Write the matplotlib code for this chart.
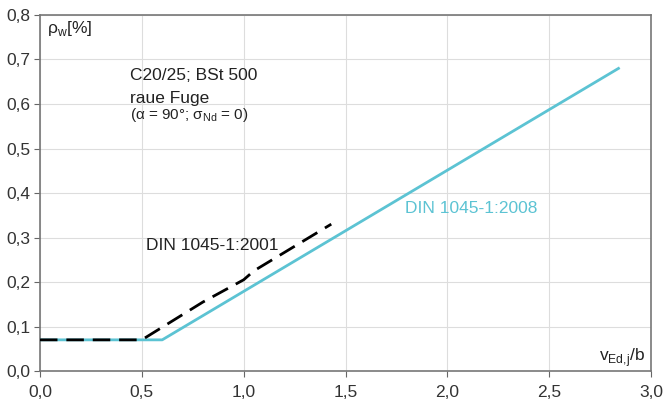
import matplotlib.pyplot as plt
from matplotlib.ticker import FuncFormatter

plt.rcParams['font.family'] = ['Liberation Sans', 'DejaVu Sans']
plt.rcParams['mathtext.fontset'] = 'custom'
plt.rcParams['mathtext.rm'] = 'Liberation Sans'

# DIN 1045-1:2008 (blue line)
x_2008 = [0.0, 0.6, 2.84]
y_2008 = [0.07, 0.07, 0.68]

# DIN 1045-1:2001 (black dashed)
x_2001 = [0.0, 0.5, 0.8, 1.0, 1.05, 1.43]
y_2001 = [0.07, 0.07, 0.155, 0.205, 0.225, 0.33]

x_ticks = [0.0, 0.5, 1.0, 1.5, 2.0, 2.5, 3.0]
y_ticks = [0.0, 0.1, 0.2, 0.3, 0.4, 0.5, 0.6, 0.7, 0.8]

blue = '#5cc3d3'
txt = '#222222'

fig = plt.figure(figsize=(6.63, 4.01), dpi=100)
ax = fig.add_axes([0.0603, 0.0748, 0.9217, 0.8878])

ax.plot(x_2008, y_2008, color=blue, lw=2.0, zorder=3)
ax.plot(x_2001, y_2001, color='black', lw=2.0, dashes=(6.3, 3.2), zorder=4)

ax.set_xlim(0, 3.0)
ax.set_ylim(0, 0.8)
ax.set_xticks(x_ticks)
ax.set_yticks(y_ticks)
fmt = FuncFormatter(lambda v, p: f'{v:.1f}'.replace('.', ','))
ax.xaxis.set_major_formatter(fmt)
ax.yaxis.set_major_formatter(fmt)
ax.tick_params(labelsize=12.5, length=4, color='#666666', labelcolor='#333333')
ax.tick_params(axis='x', pad=6)
ax.tick_params(axis='y', pad=3)
ax.grid(True, color='#dddddd', lw=0.8)
ax.set_axisbelow(True)
for s in ax.spines.values():
    s.set_color('#777777')
    s.set_linewidth(1.2)

ax.text(0.035, 0.77, r'ρ$_\mathrm{w}$[%]', fontsize=12.5, va='center', color=txt)
ax.text(0.44, 0.665, 'C20/25; BSt 500', fontsize=12.5, va='center', color=txt)
ax.text(0.44, 0.613, 'raue Fuge', fontsize=12.5, va='center', color=txt)
ax.text(0.44, 0.575, r'(α = 90°; σ$_\mathrm{Nd}$ = 0)', fontsize=11,
        va='center', color=txt)
ax.text(0.52, 0.283, 'DIN 1045-1:2001', fontsize=12.5, va='center', color=txt)
ax.text(1.79, 0.366, 'DIN 1045-1:2008', fontsize=12.5, va='center', color=blue)
ax.text(2.97, 0.03, r'v$_\mathrm{Ed{,}j}$/b', fontsize=12.5, ha='right', va='center',
        color=txt)

plt.savefig('out.png', dpi=100)
